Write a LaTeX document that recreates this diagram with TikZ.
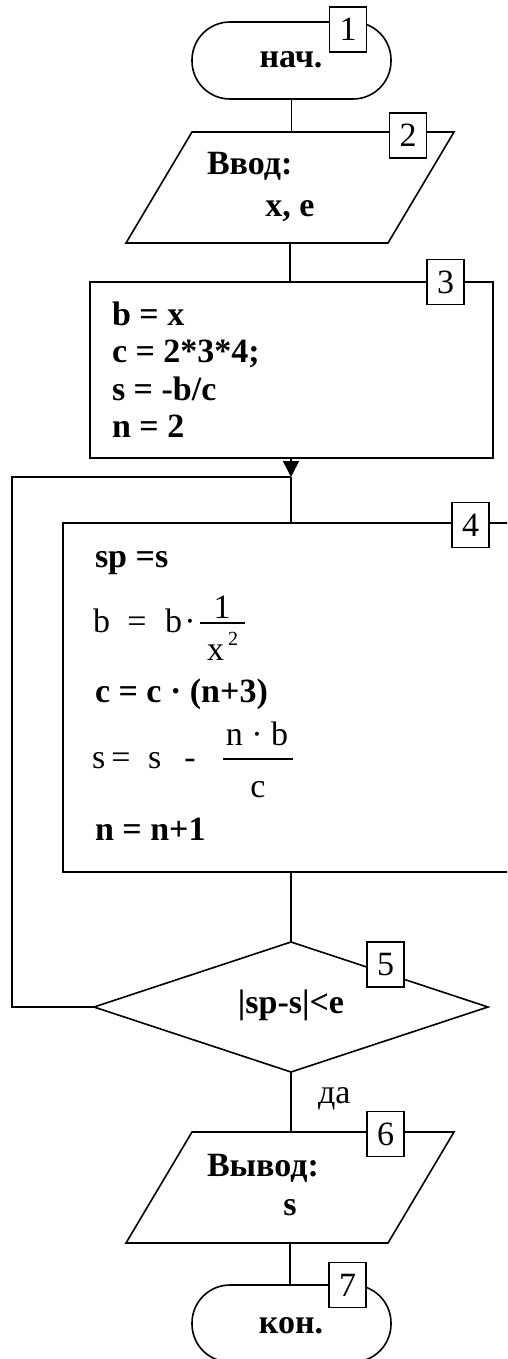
\documentclass[tikz,border=0pt]{standalone}
\usepackage{fontspec}
\setmainfont{Liberation Serif}
\usetikzlibrary{shapes.geometric,arrows.meta,calc}
\begin{document}
\begin{tikzpicture}[x=1pt,y=-1pt,
  line width=1.6pt,
  every node/.style={inner sep=0pt, outer sep=0pt},
  bf/.style={font=\fontsize{34}{40}\selectfont\bfseries},
  rg/.style={font=\fontsize{34}{40}\selectfont},
  sm/.style={font=\fontsize{20}{24}\selectfont},
  term/.style={draw, rounded corners=38pt, minimum width=199pt, minimum height=77pt},
  proc/.style={draw, rectangle},
  numbox/.style={draw, fill=white, minimum width=37pt, minimum height=45pt, font=\fontsize{34}{40}\selectfont},
  frame/.style={minimum height=111pt, minimum width=328pt},
  para/.style={line width=1.6pt},
  fracbar/.style={line width=1.1pt},
]
\clip (0,0) rectangle (507,1359);
% ---- block 1
\node[term] (t1) at (291.5,60.5) {};
\node[bf, anchor=base] (t1txt) at (291,68) {нач.};
% ---- block 2
\node[frame] (p2) at (290,187.5) {};
\draw[para] ($(p2.north west)+(66,0)$) -- (p2.north east) -- ($(p2.south east)+(-66,0)$) -- (p2.south west) -- cycle;
\node[bf, anchor=base west] (p2a) at (207,175) {Ввод:};
\node[bf, anchor=base] (p2b) at (290,216) {x, e};
% ---- block 3
\node[proc, minimum width=403pt, minimum height=176pt] (b3) at (291.5,370) {};
\node[bf, anchor=base west] (b3a) at (112,325) {b = x};
\node[bf, anchor=base west] (b3b) at (112,362) {c = 2*3*4;};
\node[bf, anchor=base west] (b3c) at (112,400) {s = -b/c};
\node[bf, anchor=base west] (b3d) at (112,437) {n = 2};
% ---- block 4
\coordinate (j) at (291,477);
\node[proc, minimum width=462pt, minimum height=349pt] (b4) at (294,697.5) {};
\node[bf, anchor=base west] (b4a) at (95,567) {sp =s};
\node[rg, anchor=base west] (fb1) at (93,632) {b};
\node[rg, anchor=base] (feq) at (137,632) {=};
\node[rg, anchor=base west] (fb2) at (165,632) {b};
\node[rg, anchor=base] (fdot) at (190,632) {·};
\node[rg, anchor=base] (f1) at (222,618) {1};
\draw[fracbar] (200,623) -- (245,623);
\node[rg, anchor=base west] (fx) at (207,660) {x};
\node[sm, anchor=base west] (f2) at (228,645) {2};
\node[bf, anchor=base west] (b4c) at (95,702) {c = c · (n+3)};
\node[rg, anchor=base west] (gs1) at (92,768) {s};
\node[rg, anchor=base] (geq) at (121,768) {=};
\node[rg, anchor=base west] (gs2) at (148,768) {s};
\node[rg, anchor=base] (gmin) at (190,768) {-};
\node[rg, anchor=base] (gnum) at (257,745) {n · b};
\draw[fracbar] (223,759) -- (293,759);
\node[rg, anchor=base] (gden) at (258,797) {c};
\node[bf, anchor=base west] (b4e) at (95,840) {n = n+1};
% ---- block 5
\node[draw, diamond, minimum width=394pt, minimum height=130pt] (d5) at (291,1007) {};
\node[bf, anchor=base] (d5txt) at (291,1013) {|sp-s|<e};
% ---- block 6
\node[frame] (p6) at (290,1187.5) {};
\draw[para] ($(p6.north west)+(66,0)$) -- (p6.north east) -- ($(p6.south east)+(-66,0)$) -- (p6.south west) -- cycle;
\node[bf, anchor=base west] (p6a) at (207,1176) {Вывод:};
\node[bf, anchor=base] (p6b) at (290,1215) {s};
\node[rg, anchor=base west] (yes) at (318,1103) {да};
% ---- block 7
\node[term] (t7) at (291.5,1323.5) {};
\node[bf, anchor=base] (t7txt) at (291,1333) {кон.};
% ---- connectors
\draw (t1.south) -- (t1.south |- p2.north);
\draw (p2.south) -- (p2.south |- b3.north);
\draw[-{Triangle[width=16pt,length=16pt]}] (j |- b3.south) -- (j);
\draw (j) -- (j |- b4.north);
\draw (d5.north |- b4.south) -- (d5.north);
\coordinate (lc) at (12,477);
\draw (d5.west) -| (lc) -- (j);
\draw (d5.south) -- (d5.south |- p6.north);
\draw (p6.south) -- (p6.south |- t7.north);
% ---- number boxes
\node[numbox] (n1) at (348,29.5) {1};
\node[numbox] (n2) at (408,135.5) {2};
\node[numbox] (n3) at (445.5,282) {3};
\node[numbox] (n4) at (470.5,525) {4};
\node[numbox] (n5) at (385.5,964.5) {5};
\node[numbox] (n6) at (385.5,1134) {6};
\node[numbox] (n7) at (347.5,1285) {7};
\end{tikzpicture}
\end{document}
